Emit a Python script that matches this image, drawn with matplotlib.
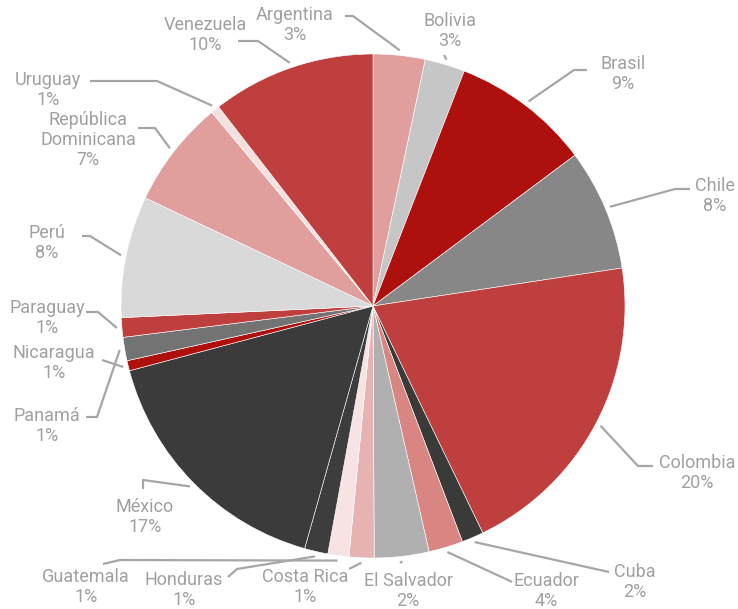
import numpy as np
import matplotlib
matplotlib.use('Agg')
from matplotlib import pyplot as plt

# slice sizes (percent of circle), clockwise from 12 o'clock
countries = ['Argentina', 'Bolivia', 'Brasil', 'Chile', 'Colombia', 'Cuba', 'Ecuador',
             'El Salvador', 'Costa Rica', 'Guatemala', 'Honduras', 'México', 'Nicaragua',
             'Panamá', 'Paraguay', 'Perú', 'República\nDominicana', 'Uruguay', 'Venezuela']
shares = [3.33, 2.57, 8.9, 7.8, 20.25, 1.4, 2.2, 3.5, 1.6, 1.35, 1.5, 16.5, 0.65,
          1.5, 1.25, 7.8, 6.9, 0.55, 10.5]
pct_labels = ['3%', '3%', '9%', '8%', '20%', '2%', '4%', '2%', '1%', '1%', '1%', '17%',
              '1%', '1%', '1%', '8%', '7%', '1%', '10%']

colors = ['#e09e9c', '#c6c6c6', '#ae100e', '#878787', '#bf3f3e', '#3a3a39', '#d98683',
          '#b0b0b0', '#e6b3b2', '#f7e3e3', '#3d3d3d', '#3b3b3b', '#ae100e', '#737373',
          '#bf3f3e', '#d9d9d9', '#e09e9c', '#f5e0e0', '#bf3f3e']

W, H = 738, 609
cx, cy, R = 373, 306, 252

# label layout in image pixels: text centre, then leader points from text towards pie
layout = {
    'Argentina': ((295, 25), [(345, 16), (353, 16)]),
    'Bolivia': ((450, 31), [(444, 55)]),
    'Brasil': ((623, 74), [(587, 70), (574, 70)]),
    'Chile': ((715, 196), [(690, 189), (675, 189)]),
    'Colombia': ((697, 473), [(653, 466), (638, 466)]),
    'Cuba': ((635, 582), [(609, 572)]),
    'Ecuador': ((546, 591), [(512, 582), (508, 580)]),
    'El Salvador': ((408, 591), [(400, 563)]),
    'Costa Rica': ((305, 587), [(349, 569)]),
    'Guatemala': ((86, 587), [(103, 564), (120, 560)]),
    'Honduras': ((184, 590), [(228, 577), (237, 569)]),
    'México': ((145, 517), [(143, 489), (143, 480)]),
    'Nicaragua': ((54, 363), [(102, 360)]),
    'Panamá': ((47, 426), [(86, 417), (97, 417)]),
    'Paraguay': ((47, 318), [(86, 312), (98, 312)]),
    'Perú': ((47, 243), [(82, 236), (90, 236)]),
    'República\nDominicana': ((88, 140), [(138, 128), (155, 128)]),
    'Uruguay': ((48, 90), [(90, 81), (157, 81)]),
    'Venezuela': ((205, 35), [(238, 41), (258, 41)]),
}

plt.rcParams['font.family'] = ['Roboto', 'DejaVu Sans']

fig = plt.figure(figsize=(W / 100, H / 100), dpi=100)
ax = fig.add_axes([0, 0, 1, 1])

wedges, _ = ax.pie(shares, colors=colors, startangle=90, counterclock=False,
                   center=(cx, H - cy), radius=R, frame=False,
                   wedgeprops=dict(edgecolor='white', linewidth=0.4))
ax.set_xlim(0, W)
ax.set_ylim(0, H)
ax.set_aspect('equal')
ax.axis('off')

line_col = '#a6a6a6'
text_col = '#a0a0a0'
for w, name, pct in zip(wedges, countries, pct_labels):
    mid = np.deg2rad((w.theta1 + w.theta2) / 2)
    ax_pt = (cx + 1.02 * R * np.cos(mid), H - cy + 1.02 * R * np.sin(mid))
    (tx, ty), pts = layout[name]
    xs = [p[0] for p in pts] + [ax_pt[0]]
    ys = [H - p[1] for p in pts] + [ax_pt[1]]
    ax.plot(xs, ys, color=line_col, lw=1.6, solid_capstyle='butt')
    ax.text(tx, H - ty, name + '\n' + pct, ha='center', va='center',
            fontsize=13, color=text_col, linespacing=1.15)

fig.savefig('out.png', dpi=100)
